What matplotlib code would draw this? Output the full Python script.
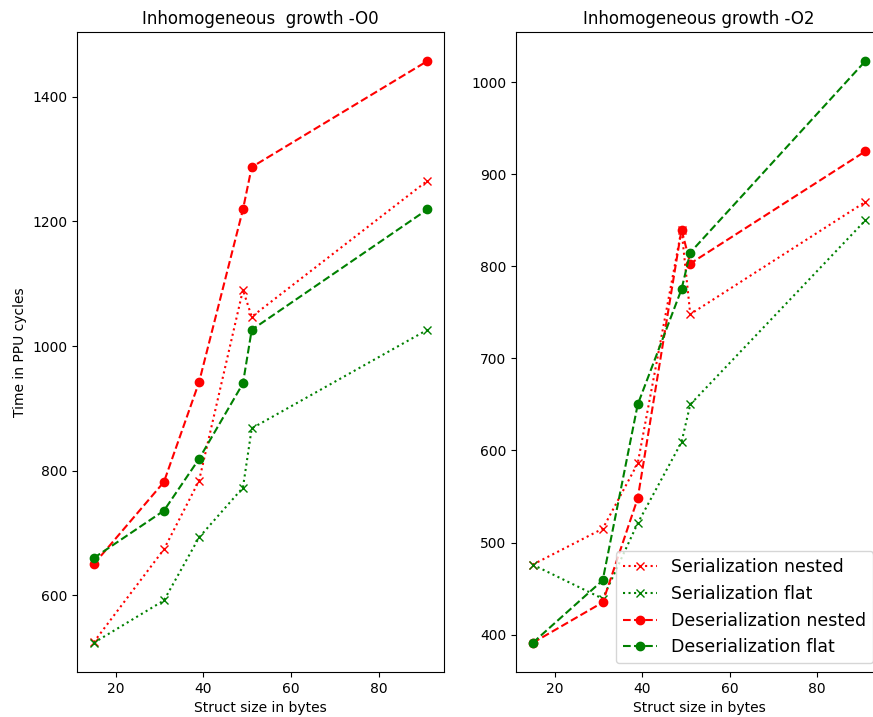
import matplotlib
matplotlib.use("Agg")
import matplotlib.pyplot as plt

sizes = [15, 31, 39, 49, 51, 91]

# -O0
o0_ser_nested = [525, 674, 784, 1090, 1047, 1265]
o0_ser_flat = [524, 592, 693, 773, 868, 1026]
o0_deser_nested = [650, 782, 942, 1219, 1287, 1457]
o0_deser_flat = [660, 736, 819, 940, 1026, 1219]

# -O2
o2_ser_nested = [476, 515, 586, 840, 748, 870]
o2_ser_flat = [476, 439, 521, 609, 650, 850]
o2_deser_nested = [391, 435, 548, 840, 803, 925]
o2_deser_flat = [391, 459, 650, 775, 815, 1023]

labels = ["Serialization nested", "Serialization flat",
          "Deserialization nested", "Deserialization flat"]
titles = ["Inhomogeneous  growth -O0", "Inhomogeneous growth -O2"]

fig = plt.figure(figsize=(8.73, 7.17), dpi=100)
ax1 = fig.add_axes([0.0882, 0.0628, 0.4204, 0.8926])
ax2 = fig.add_axes([0.5911, 0.0628, 0.4192, 0.8926])

for ax, data, title in [(ax1, (o0_ser_nested, o0_ser_flat, o0_deser_nested, o0_deser_flat), titles[0]),
                        (ax2, (o2_ser_nested, o2_ser_flat, o2_deser_nested, o2_deser_flat), titles[1])]:
    ax.plot(sizes, data[0], 'rx:', label=labels[0])
    ax.plot(sizes, data[1], 'gx:', label=labels[1])
    ax.plot(sizes, data[2], 'ro--', label=labels[2])
    ax.plot(sizes, data[3], 'go--', label=labels[3])
    ax.set_title(title)
    ax.set_xlabel("Struct size in bytes")

ax1.set_ylabel("Time in PPU cycles")
ax2.legend(loc="lower right", fontsize=12.5)

fig.savefig("out.png", dpi=100)
